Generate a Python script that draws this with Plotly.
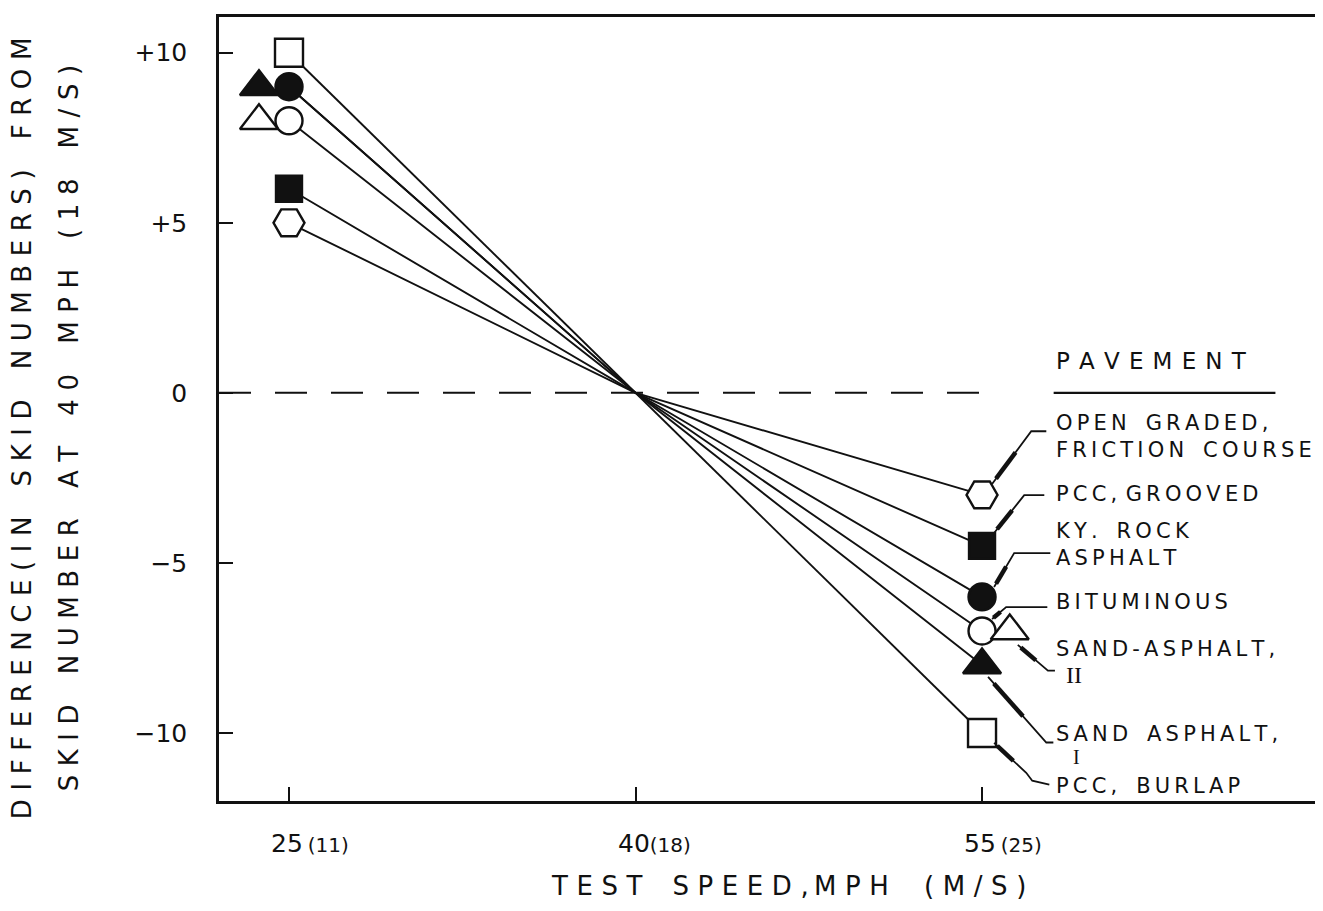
import plotly.graph_objects as go

# ---------------- data ----------------
pavements = ["OPEN GRADED, FRICTION COURSE", "PCC, GROOVED", "KY. ROCK ASPHALT",
             "BITUMINOUS", "SAND-ASPHALT, II", "SAND ASPHALT, I", "PCC, BURLAP"]
speeds_mph = [25, 40, 55]
speed_ms = ["11", "18", "25"]
diff_25 = [5, 6, 9, 8, 8, 9, 10]
diff_40 = [0, 0, 0, 0, 0, 0, 0]
diff_55 = [-3, -4.5, -6, -7, -7, -8, -10]
y_tickvals = [10, 5, 0, -5, -10]
y_ticktext = ["+10", "+5", "0", "\u22125", "\u221210"]

# ---------------- styles ----------------
FONT = "DejaVu Sans"
INK = "#111111"
symbols = ["hexagon2", "square", "circle", "circle", "triangle-up", "triangle-up", "square"]
fills = ["white", INK, INK, "white", "white", INK, "white"]
sizes = [31, 26, 27, 27, 33, 33, 28]
# horizontal display offsets of overlapping markers (mph)
off_25 = [0, 0, 0, 0, -1.3, -1.3, 0]
off_55 = [0, 0, 0, 0, 1.2, 0, 0]
# which series draw their own connecting line (others coincide)
draw_line = [True, True, True, True, False, True, True]

PX_X = 23.0   # px per mph
PX_Y = 34.2   # px per unit


def spaced(s, gap="\u2009", word="\u2002"):
    return gap.join(word if c == " " else c for c in s)


fig = go.Figure()

# connecting lines
for i in range(len(pavements)):
    if not draw_line[i]:
        continue
    fig.add_trace(go.Scatter(
        x=speeds_mph, y=[diff_25[i], diff_40[i], diff_55[i]],
        mode="lines", line=dict(color=INK, width=1.9),
        showlegend=False, hoverinfo="skip"))

# markers
for i, name in enumerate(pavements):
    fig.add_trace(go.Scatter(
        x=[speeds_mph[0] + off_25[i], speeds_mph[2] + off_55[i]],
        y=[diff_25[i], diff_55[i]],
        mode="markers", name=name,
        marker=dict(symbol=symbols[i], size=sizes[i], color=fills[i],
                    line=dict(color=INK, width=2.4)),
        showlegend=False))

# leader lines (pixel offsets relative to each 55-mph marker)
leaders = [
    [(10, -11), (49, -64), (64, -64)],
    [(12, -13), (42, -51), (62, -51)],
    [(12, -10), (32, -44), (68, -44)],
    [(10, -12), (24, -24), (65, -24)],
    [(8, 14), (38, 40), (45, 40)],
    [(6, 12), (64, 78), (71, 78)],
    [(12, 10), (44, 40), (50, 48), (67, 52)],
]
shapes = []
for i, pts in enumerate(leaders):
    x0 = speeds_mph[2] + off_55[i]
    y0 = diff_55[i]
    coords = [(x0 + dx / PX_X, y0 - dy / PX_Y) for dx, dy in pts]
    path = "M " + " L ".join(f"{x},{y}" for x, y in coords)
    shapes.append(dict(type="path", path=path, xref="x", yref="y",
                       line=dict(color=INK, width=1.8)))
    # thick "arrow" portion of the hand-drawn leader
    (ax, ay), (bx, by) = coords[0], coords[1]
    shapes.append(dict(type="line", xref="x", yref="y",
                       x0=ax + (bx - ax) * 0.1, y0=ay + (by - ay) * 0.1,
                       x1=ax + (bx - ax) * 0.6, y1=ay + (by - ay) * 0.6,
                       line=dict(color=INK, width=4.5)))

# zero dashed reference line
shapes.append(dict(type="line", xref="x", yref="y", x0=21.97, x1=55.3, y0=0, y1=0,
                   line=dict(color=INK, width=2, dash="32px,24px")))
# PAVEMENT underline
shapes.append(dict(type="line", xref="x", yref="y", x0=58.1, x1=67.7, y0=0, y1=0,
                   line=dict(color=INK, width=2.2)))

annotations = []
lab_font = dict(family=FONT, size=21, color=INK)
label_x = 58.1
label_y = [-1.29, -2.98, -4.47, -6.14, -7.54, -10.03, -11.55]
label_texts = [
    spaced("OPEN GRADED,") + "<br>" + spaced("FRICTION COURSE"),
    spaced("PCC,") + "\u2009\u2009" + spaced("GROOVED"),
    spaced("KY. ROCK") + "<br>" + spaced("ASPHALT"),
    spaced("BITUMINOUS"),
    spaced("SAND-ASPHALT,"),
    spaced("SAND ASPHALT,"),
    spaced("PCC, BURLAP"),
]
for ly, txt in zip(label_y, label_texts):
    annotations.append(dict(x=label_x, y=ly, xref="x", yref="y", text=txt,
                            xanchor="left", yanchor="middle", align="left",
                            showarrow=False, font=lab_font))
# roman numerals
annotations.append(dict(x=59.0, y=-8.3, xref="x", yref="y", text="II",
                        xanchor="center", yanchor="middle", showarrow=False,
                        font=dict(family="Liberation Serif", size=24, color=INK)))
annotations.append(dict(x=59.1, y=-10.72, xref="x", yref="y", text="I",
                        xanchor="center", yanchor="middle", showarrow=False,
                        font=dict(family="Liberation Serif", size=20, color=INK)))
# header
annotations.append(dict(x=label_x, y=0.94, xref="x", yref="y",
                        text=spaced("PAVEMENT", gap="\u2009\u2009"),
                        xanchor="left", yanchor="middle", showarrow=False,
                        font=dict(family=FONT, size=23, color=INK)))

# x tick labels (mph with m/s in parentheses)
seps = ["\u2009", "", "\u2009"]
for v, ms, sep in zip(speeds_mph, speed_ms, seps):
    annotations.append(dict(
        x=v, y=0, xref="x", yref="paper", xanchor="left", yanchor="top",
        xshift=-20, yshift=-26, showarrow=False,
        text=f"{v}{sep}<span style='font-size:20px'>({ms})</span>",
        font=dict(family=FONT, size=25, color=INK)))

# axis titles
annotations.append(dict(x=(785 - 218) / 1094, y=(800 - 885) / 788,
                        xref="paper", yref="paper", showarrow=False,
                        xanchor="center", yanchor="middle",
                        text=spaced("TEST SPEED,", gap="\u2004") + "\u2009"
                        + spaced("MPH (M/S)", gap="\u2004", word="\u2002\u2009"),
                        font=dict(family=FONT, size=26, color=INK)))
annotations.append(dict(x=(22 - 218) / 1094, y=(800 - 425) / 788,
                        xref="paper", yref="paper", showarrow=False, textangle=-90,
                        xanchor="center", yanchor="middle",
                        text=spaced("DIFFERENCE(IN SKID NUMBERS) FROM", gap="\u2004"),
                        font=dict(family=FONT, size=26, color=INK)))
annotations.append(dict(x=(68 - 218) / 1094, y=(800 - 425) / 788,
                        xref="paper", yref="paper", showarrow=False, textangle=-90,
                        xanchor="center", yanchor="middle",
                        text=spaced("SKID NUMBER AT 40 MPH (18 M/S)", gap="\u2004"),
                        font=dict(family=FONT, size=26, color=INK)))

fig.update_layout(
    width=1323, height=911,
    margin=dict(l=211, r=14, t=6, b=118),
    paper_bgcolor="white", plot_bgcolor="white",
    showlegend=False,
    shapes=shapes, annotations=annotations,
    font=dict(family=FONT, color=INK),
    xaxis=dict(range=[21.97, 69.5], showgrid=False, zeroline=False,
               showline=True, mirror=True, linecolor=INK, linewidth=2.5,
               tickvals=speeds_mph, ticks="inside", ticklen=14, tickwidth=1.5,
               tickcolor=INK, showticklabels=False),
    yaxis=dict(range=[-12.0, 11.05], showgrid=False, zeroline=False,
               showline=True, mirror=True, linecolor=INK, linewidth=2.5,
               tickvals=y_tickvals, ticktext=y_ticktext,
               ticks="inside", ticklen=14, tickwidth=1.5, tickcolor=INK,
               ticklabelstandoff=24,
               tickfont=dict(family=FONT, size=25, color=INK)),
)

fig.write_html("out.html")
